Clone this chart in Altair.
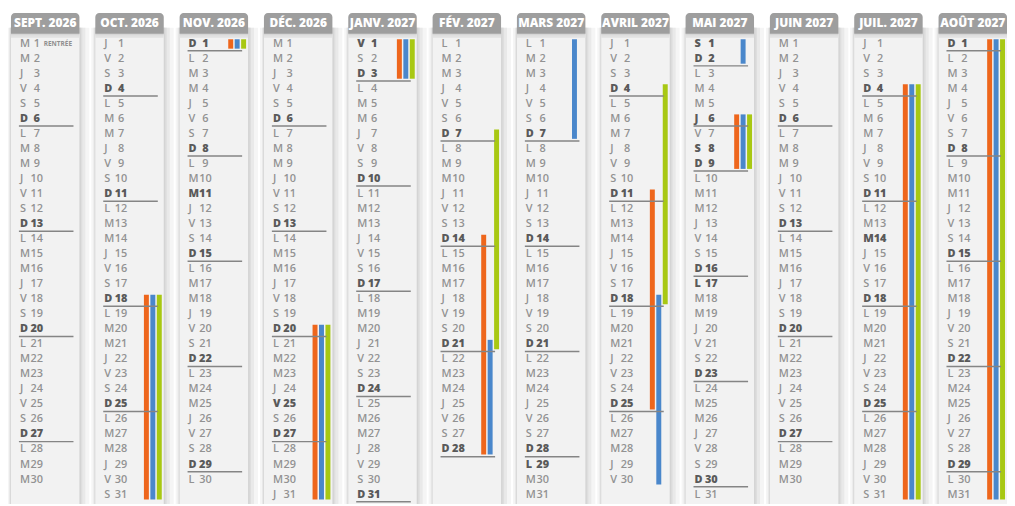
import datetime as dt
import altair as alt
import pandas as pd

# ---------------- data ----------------
MONTH_LABELS = ["SEPT. 2026", "OCT. 2026", "NOV. 2026", "DÉC. 2026", "JANV. 2027", "FÉV. 2027",
                "MARS 2027", "AVRIL 2027", "MAI 2027", "JUIN 2027", "JUIL. 2027", "AOÛT 2027"]
MONTH_YEARS = [2026, 2026, 2026, 2026, 2027, 2027, 2027, 2027, 2027, 2027, 2027, 2027]
MONTH_NUMS = [9, 10, 11, 12, 1, 2, 3, 4, 5, 6, 7, 8]
DAYS_IN_MONTH = [30, 31, 30, 31, 31, 28, 31, 30, 31, 30, 31, 31]
WEEKDAY_LETTERS = ["L", "M", "M", "J", "V", "S", "D"]

HOLIDAYS = ["2026-11-01", "2026-11-11", "2026-12-25", "2027-01-01", "2027-03-29",
            "2027-05-01", "2027-05-06", "2027-05-08", "2027-05-17", "2027-07-14", "2027-08-15"]
EXTRA_SEPARATORS = ["2027-05-06"]
RENTREE_DATE = "2026-09-01"
RENTREE_LABEL = "RENTRÉE"

ZONES = ["A", "B", "C"]
ZONE_COLORS = ["#ee661c", "#4a87cb", "#a8c813"]
ZONE_A_PERIODS = [("2026-10-18", "2026-11-01"), ("2026-12-20", "2027-01-03"), ("2027-02-14", "2027-02-28"),
                  ("2027-04-11", "2027-04-25"), ("2027-05-06", "2027-05-09"), ("2027-07-04", "2027-08-31")]
ZONE_B_PERIODS = [("2026-10-18", "2026-11-01"), ("2026-12-20", "2027-01-03"), ("2027-02-21", "2027-03-07"),
                  ("2027-04-18", "2027-05-02"), ("2027-05-06", "2027-05-09"), ("2027-07-04", "2027-08-31")]
ZONE_C_PERIODS = [("2026-10-18", "2026-11-01"), ("2026-12-20", "2027-01-03"), ("2027-02-07", "2027-02-21"),
                  ("2027-04-04", "2027-04-18"), ("2027-05-06", "2027-05-09"), ("2027-07-04", "2027-08-31")]
ZONE_PERIODS = [ZONE_A_PERIODS, ZONE_B_PERIODS, ZONE_C_PERIODS]

# ---------------- tables ----------------
months = pd.DataFrame({"m": list(range(12)), "label": MONTH_LABELS})

hol = set(HOLIDAYS)
extra = set(EXTRA_SEPARATORS)
rows = []
for m in range(12):
    for d in range(1, DAYS_IN_MONTH[m] + 1):
        date = dt.date(MONTH_YEARS[m], MONTH_NUMS[m], d)
        iso = date.isoformat()
        wd = date.weekday()
        rows.append({
            "m": m, "d": d,
            "letter": WEEKDAY_LETTERS[wd],
            "num": str(d),
            "bold": (wd == 6) or (iso in hol),
            "sep": (wd == 6) or (iso in extra),
            "rentree": iso == RENTREE_DATE,
        })
days = pd.DataFrame(rows)

bar_rows = []
for zi, periods in enumerate(ZONE_PERIODS):
    for s, e in periods:
        s = dt.date.fromisoformat(s)
        e = dt.date.fromisoformat(e)
        for m in range(12):
            first = dt.date(MONTH_YEARS[m], MONTH_NUMS[m], 1)
            last = dt.date(MONTH_YEARS[m], MONTH_NUMS[m], DAYS_IN_MONTH[m])
            a, b = max(s, first), min(e, last)
            if a <= b:
                bar_rows.append({"m": m, "start": a.day, "end": b.day, "zone": ZONES[zi]})
bars = pd.DataFrame(bar_rows)

# ---------------- scales ----------------
X = alt.Scale(domain=[0, 11], range=[3, 938])
Y = alt.Scale(domain=[1, 31], range=[34, 488.5])
FONT = "Open Sans"

def xm():
    return alt.X("m:Q", scale=X, axis=None)

base_m = alt.Chart(months)

layers = []
# shadows
for (o1, o2, col) in [(-4, 79, "#f5f5f5"), (-2, 75, "#e9e9e9"), (-1, 72, "#dedede"), (-0.5, 70.5, "#d4d4d4")]:
    layers.append(base_m.mark_rect(color=col, xOffset=o1, x2Offset=o2).encode(
        x=xm(), x2="m:Q", y=alt.value(18), y2=alt.value(498)))
# panel
layers.append(base_m.mark_rect(color="#f2f2f2", xOffset=0, x2Offset=69).encode(
    x=xm(), x2="m:Q", y=alt.value(24), y2=alt.value(498)))
# header shadow
layers.append(base_m.mark_rect(color="#e2e2e2", xOffset=0, x2Offset=69).encode(
    x=xm(), x2="m:Q", y=alt.value(24), y2=alt.value(28)))
layers.append(base_m.mark_rect(color="#d6d6d6", xOffset=0, x2Offset=69).encode(
    x=xm(), x2="m:Q", y=alt.value(24), y2=alt.value(25.5)))
# header
layers.append(base_m.mark_rect(color="#9e9e9e", xOffset=0, x2Offset=69,
                               cornerRadiusTopLeft=4, cornerRadiusTopRight=4).encode(
    x=xm(), x2="m:Q", y=alt.value(3), y2=alt.value(24)))
layers.append(base_m.mark_text(color="white", font=FONT, fontWeight=800, fontSize=12,
                               align="center", baseline="middle", dx=34.5).encode(
    x=xm(), y=alt.value(13.5), text="label:N"))

# vacation bars
bar_offsets = [(49, 54), (55.5, 60.5), (62, 67)]
for zi, z in enumerate(ZONES):
    o1, o2 = bar_offsets[zi]
    layers.append(alt.Chart(bars).transform_filter(alt.datum.zone == z).mark_rect(
        color=ZONE_COLORS[zi], xOffset=o1, x2Offset=o2, yOffset=-4.5, y2Offset=5).encode(
        x=xm(), x2="m:Q", y=alt.Y("start:Q", scale=Y, axis=None), y2="end:Q"))

# separators
layers.append(alt.Chart(days).transform_filter(alt.datum.sep).mark_rule(
    color="#858585", strokeWidth=1.5, xOffset=8, x2Offset=63, yOffset=7.2).encode(
    x=xm(), x2="m:Q", y=alt.Y("d:Q", scale=Y, axis=None)))

# day texts
for bold in [False, True]:
    col = "#5a5a5a" if bold else "#929292"
    fw = 800 if bold else 600
    flt = alt.datum.bold if bold else ~alt.datum.bold
    src = alt.Chart(days).transform_filter(flt)
    layers.append(src.mark_text(font=FONT, fontSize=11, fontWeight=fw, color=col,
                                align="left", baseline="middle", dx=9).encode(
        x=xm(), y=alt.Y("d:Q", scale=Y, axis=None), text="letter:N"))
    layers.append(src.mark_text(font=FONT, fontSize=11, fontWeight=fw, color=col,
                                align="center", baseline="middle", dx=26).encode(
        x=xm(), y=alt.Y("d:Q", scale=Y, axis=None), text="num:N"))

# rentrée label
layers.append(alt.Chart(days).transform_filter(alt.datum.rentree).transform_calculate(
    lab=f"'{RENTREE_LABEL}'").mark_text(
    font=FONT, fontSize=6.5, fontWeight="bold", color="#8f8f8f",
    align="left", baseline="middle", dx=33).encode(
    x=xm(), y=alt.Y("d:Q", scale=Y, axis=None), text="lab:N"))

chart = alt.layer(*layers).properties(
    width=1007, height=498, padding=0,
    autosize=alt.AutoSizeParams(type="none"),
    background="white",
).configure_view(strokeWidth=0)

chart.save("out.html", embed_options={"renderer": "svg", "actions": False})
